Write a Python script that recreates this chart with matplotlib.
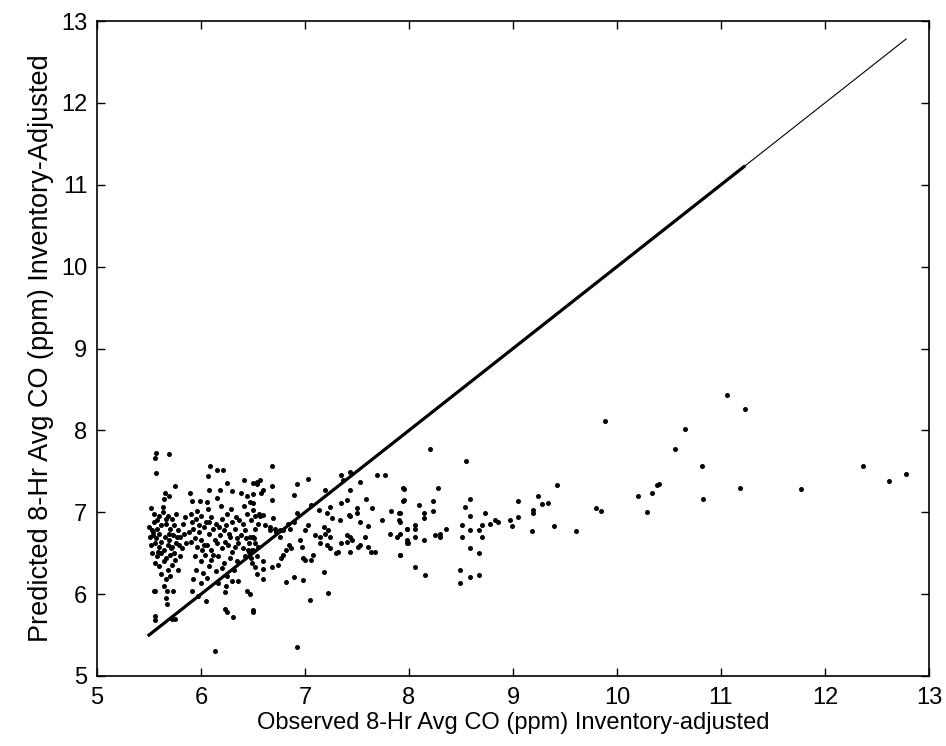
import matplotlib
matplotlib.use('Agg')
from matplotlib import pyplot as plt
import numpy as np

plt.rcParams['font.family'] = ['Liberation Sans', 'DejaVu Sans']

# observed (x) / predicted (y) CO
obs_x = [
    5.57, 5.56, 5.69, 5.57, 6.09, 6.15, 6.21, 6.07, 6.25, 6.41, 6.50, 6.54,
    5.75, 5.65, 5.69, 5.64, 5.89, 5.91, 5.99, 6.08, 6.06, 6.18, 6.15, 6.30, 6.38, 6.44, 6.47, 6.50,
    5.52, 5.55, 5.60, 5.63, 5.68, 5.72, 5.76, 5.55, 5.50, 5.53, 5.58, 5.62, 5.66, 5.70, 5.74, 5.78,
    5.51, 5.54, 5.57, 5.60, 5.65, 5.69, 5.73, 5.80, 5.84, 5.52, 5.56, 5.60, 5.64, 5.68, 5.72, 5.76,
    5.82, 5.86, 5.53, 5.58, 5.62, 5.66, 5.70, 5.75, 5.80, 5.56, 5.60, 5.64, 5.68, 5.72, 5.78, 5.62,
    5.66, 5.70, 5.64, 5.67, 5.55, 5.73, 5.66, 5.56, 5.56, 5.72,
    5.90, 5.95, 6.00, 6.05, 6.10, 6.14, 6.20, 6.25, 6.30, 6.34, 6.40, 6.44, 6.48, 6.52,
    5.92, 5.98, 6.03, 6.08, 6.12, 6.18, 6.22, 6.28, 6.33, 6.38, 6.42, 6.47, 6.52,
    5.90, 5.96, 6.00, 6.06, 6.10, 6.15, 6.20, 6.26, 6.30, 6.36, 6.40, 6.46, 6.50,
    5.94, 6.00, 6.04, 6.10, 6.16, 6.22, 6.28, 6.35, 6.42, 6.48,
    5.95, 6.02, 6.08, 6.14, 6.20, 6.25, 6.32, 5.92, 6.00, 6.06, 6.16, 6.24, 6.30,
    6.23, 6.23, 6.25, 6.31, 6.50, 6.44, 6.13, 6.05, 5.75, 5.67, 5.56, 5.91, 5.97, 6.36,
    5.58, 5.62, 5.66, 5.71, 5.77, 5.83, 5.88, 5.94, 5.98, 6.03,
    6.08, 6.13, 6.17, 6.23, 6.27, 6.33, 6.37, 6.43, 6.46, 6.55,
    5.54, 5.59, 5.63, 5.69, 5.74, 5.79, 5.85, 5.91, 5.96, 6.01,
    6.07, 6.12, 6.19, 6.24, 6.29, 6.35, 6.41, 6.45, 6.51, 6.56,
    6.68, 6.68, 6.68, 6.54, 6.57, 6.60, 6.58, 6.50, 6.50, 6.57, 6.60, 6.69,
    6.92, 7.03, 6.89, 6.92, 7.06, 7.13, 7.19, 7.24, 7.21, 7.26,
    7.35, 7.43, 7.37, 7.53, 7.69, 7.77, 7.43, 7.35, 7.40, 7.50, 7.50, 7.59, 7.64,
    7.34, 7.42, 7.43, 7.53, 7.61, 7.74, 7.83, 7.90, 7.95, 7.95, 7.90, 7.98,
    6.66, 6.71, 6.76, 6.79, 6.84, 6.86, 6.89,
    6.95, 7.00, 7.03, 7.10, 7.14, 7.19, 7.22, 7.18, 7.24,
    7.40, 7.43, 7.45, 7.58, 7.82, 7.88, 7.98, 7.99,
    6.97, 7.14, 7.21, 7.24, 7.35, 7.40, 7.51, 7.53, 7.61, 7.63, 7.67, 7.30, 7.43, 7.32,
    6.85, 6.87, 6.82, 6.79, 6.77, 6.98, 7.00, 7.06, 7.08, 7.91,
    6.54, 6.60, 6.60, 6.68, 6.74, 6.52, 6.49, 6.54, 6.60,
    6.82, 6.89, 6.98, 7.18, 7.22, 7.05, 6.50, 6.92, 6.47,
    6.50, 6.52, 6.55, 6.49, 6.62, 6.66, 6.72, 6.76,
    8.20, 8.55, 7.94, 8.28, 7.94, 8.23, 8.23, 8.10, 8.14, 8.14, 7.91, 7.91,
    7.98, 8.06, 8.06, 8.06, 7.91, 7.98, 8.14, 8.25, 8.30, 8.30, 8.36,
    7.91, 8.06, 8.15, 8.54, 8.59, 8.59, 8.51, 8.59, 8.51,
    8.73, 8.70, 8.67, 8.70, 8.78, 8.83, 8.86, 8.97, 8.99,
    8.59, 8.67, 8.49, 8.59, 8.67, 8.49,
    9.05, 9.05, 9.19, 9.19, 9.24, 9.28, 9.34, 9.42, 9.39, 9.18, 9.61, 9.80,
    9.85, 9.88, 10.20, 10.29, 10.34, 10.38, 10.40,
    10.56, 10.65, 10.82, 10.83, 11.06, 11.23, 11.18,
    11.77, 12.37, 12.62, 12.78,
]
pred_y = [
    7.72, 7.66, 7.71, 7.48, 7.56, 7.52, 7.51, 7.44, 7.36, 7.39, 7.36, 7.34,
    7.32, 7.24, 7.20, 7.16, 7.24, 7.14, 7.14, 7.27, 7.13, 7.27, 7.17, 7.26, 7.24, 7.20, 7.12, 7.22,
    7.05, 6.98, 6.95, 7.00, 6.96, 6.92, 6.98, 6.88, 6.82, 6.78, 6.80, 6.84, 6.86, 6.80, 6.84, 6.78,
    6.70, 6.72, 6.68, 6.74, 6.70, 6.66, 6.72, 6.70, 6.74, 6.60, 6.62, 6.58, 6.54, 6.60, 6.58, 6.62,
    6.56, 6.62, 6.50, 6.46, 6.50, 6.44, 6.48, 6.42, 6.46, 6.38, 6.34, 6.40, 6.30, 6.36, 6.30, 6.24,
    6.18, 6.22, 6.10, 6.04, 6.04, 6.04, 5.95, 5.73, 5.68, 5.70,
    6.98, 6.92, 6.96, 6.88, 6.94, 6.86, 6.92, 6.98, 6.88, 6.94, 6.86, 6.98, 6.90, 6.96,
    6.80, 6.76, 6.82, 6.74, 6.80, 6.72, 6.78, 6.70, 6.80, 6.72, 6.78, 6.70, 6.80,
    6.64, 6.58, 6.66, 6.60, 6.54, 6.62, 6.56, 6.60, 6.52, 6.62, 6.56, 6.62, 6.54,
    6.46, 6.40, 6.48, 6.42, 6.46, 6.38, 6.44, 6.40, 6.46, 6.44,
    6.30, 6.26, 6.34, 6.28, 6.32, 6.22, 6.30, 6.18, 6.14, 6.20, 6.14, 6.10, 6.16,
    6.02, 5.82, 5.78, 5.72, 5.81, 6.04, 5.31, 5.92, 5.70, 5.88, 6.04, 6.04, 5.98, 6.16,
    6.90, 6.64, 6.92, 6.56, 6.70, 6.86, 6.76, 6.68, 6.84, 6.60,
    6.88, 6.66, 6.82, 6.64, 6.74, 6.58, 6.90, 6.68, 6.52, 6.86,
    6.76, 6.52, 7.06, 6.74, 6.50, 6.60, 6.94, 6.88, 7.02, 6.54,
    7.04, 6.48, 7.08, 6.84, 7.04, 6.68, 7.08, 6.54, 6.68, 6.98,
    7.56, 7.32, 7.15, 7.37, 7.39, 7.27, 7.23, 7.11, 7.03, 6.95, 6.97, 6.93,
    7.35, 7.41, 7.21, 6.99, 7.09, 7.03, 7.27, 7.07, 6.99, 6.93,
    7.45, 7.49, 7.39, 7.37, 7.45, 7.45, 7.27, 7.11, 7.15, 7.05, 6.99, 7.16, 7.05,
    6.90, 6.97, 6.95, 6.88, 6.83, 6.90, 7.01, 6.99, 7.29, 7.15, 6.90, 6.80,
    6.78, 6.80, 6.78, 6.78, 6.86, 6.80, 6.88,
    6.66, 6.78, 6.84, 6.72, 6.70, 6.74, 6.78, 6.82, 6.70,
    6.72, 6.70, 6.66, 6.70, 6.74, 6.70, 6.66, 6.62,
    6.58, 6.62, 6.60, 6.56, 6.62, 6.64, 6.58, 6.60, 6.58, 6.52, 6.51, 6.50, 6.52, 6.52,
    6.60, 6.56, 6.54, 6.48, 6.44, 6.44, 6.42, 6.42, 6.48, 6.48,
    6.46, 6.40, 6.31, 6.33, 6.36, 6.33, 6.38, 6.25, 6.19,
    6.15, 6.21, 6.17, 6.27, 6.01, 5.93, 5.78, 5.35, 6.00,
    6.70, 6.62, 6.58, 6.54, 6.84, 6.82, 6.76, 6.70,
    7.77, 7.62, 7.30, 7.30, 7.14, 7.14, 7.01, 7.09, 6.99, 6.93, 6.99, 6.88,
    6.80, 6.84, 6.79, 6.70, 6.74, 6.62, 6.66, 6.72, 6.74, 6.70, 6.79,
    6.48, 6.33, 6.23, 7.06, 7.16, 6.95, 6.84, 6.78, 6.70,
    6.99, 6.84, 6.78, 6.70, 6.86, 6.90, 6.88, 6.90, 6.83,
    6.56, 6.50, 6.29, 6.21, 6.23, 6.14,
    7.14, 6.94, 7.03, 6.99, 7.20, 7.10, 7.11, 7.33, 6.83, 6.77, 6.77, 7.05,
    7.01, 8.11, 7.20, 7.00, 7.24, 7.33, 7.34,
    7.77, 8.02, 7.57, 7.16, 8.43, 8.26, 7.30,
    7.28, 7.57, 7.38, 7.47,
]

# 1:1 reference lines
line_thin = [5.5, 12.78]
line_thick = [5.5, 11.22]

fig = plt.figure(figsize=(9.46, 7.46), dpi=100)
ax = fig.add_axes([97 / 946, 70 / 746, 832 / 946, 655 / 746])

ax.plot(line_thin, line_thin, color='black', lw=0.8)
ax.plot(line_thick, line_thick, color='black', lw=2.3)
ax.plot(obs_x, pred_y, linestyle='none', marker='o', ms=3.6,
        mfc='black', mec='black', mew=0)

ax.set_xlim(5, 13)
ax.set_ylim(5, 13)
ax.set_xticks(np.arange(5, 14, 1))
ax.set_yticks(np.arange(5, 14, 1))
ax.tick_params(direction='in', top=True, right=True, length=6, width=1,
               labelsize=17)
ax.tick_params(axis='x', pad=8)
ax.tick_params(axis='y', pad=7)
for s in ax.spines.values():
    s.set_linewidth(1.2)

ax.set_xlabel('Observed 8-Hr Avg CO (ppm) Inventory-adjusted', fontsize=17, labelpad=2)
ax.set_ylabel('Predicted 8-Hr Avg CO (ppm) Inventory-Adjusted', fontsize=19.5, labelpad=5)

fig.savefig('out.png', dpi=100)
